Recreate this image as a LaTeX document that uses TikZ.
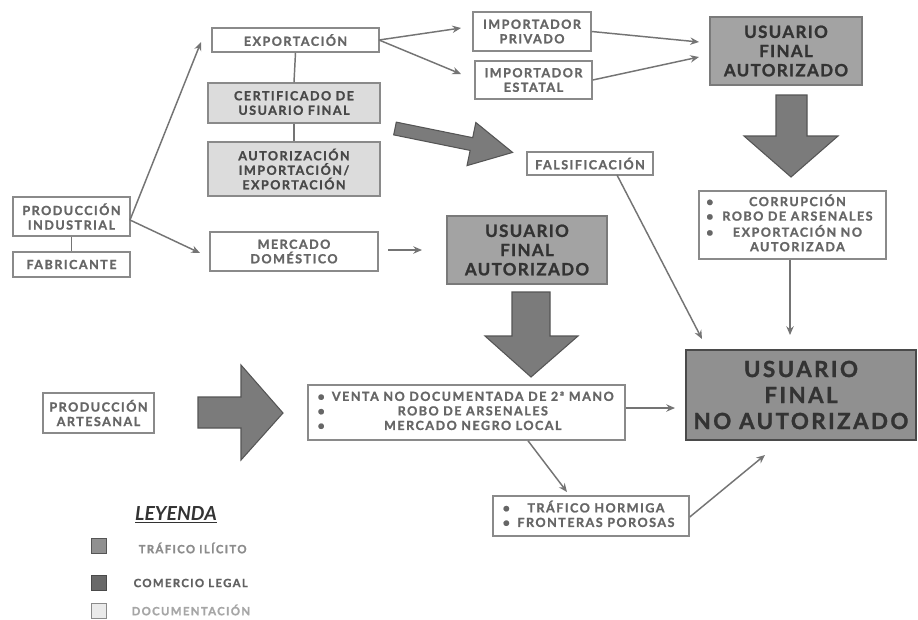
\documentclass[tikz,border=0pt]{standalone}
\usepackage{fontspec}
\setmainfont{Lato}
\newfontfamily\gs[LetterSpace=12,BoldFeatures={FakeBold=1.3}]{Lato}
\newfontfamily\gsb[LetterSpace=8,BoldFeatures={FakeBold=1.3}]{Lato}
\newfontfamily\gsn[LetterSpace=11,BoldFeatures={FakeBold=1.3}]{Lato}
\usetikzlibrary{arrows.meta,calc}
\definecolor{bordc}{HTML}{8A8A8A}
\definecolor{txtc}{HTML}{666666}
\definecolor{doctxt}{HTML}{484848}
\definecolor{docc}{HTML}{DCDCDC}
\definecolor{ufac}{HTML}{A3A3A3}
\definecolor{ufab}{HTML}{7A7A7A}
\definecolor{noac}{HTML}{909090}
\definecolor{noab}{HTML}{4A4A4A}
\definecolor{bigtxt}{HTML}{333333}
\definecolor{arrc}{HTML}{7B7B7B}
\definecolor{arrb}{HTML}{555555}
\definecolor{linec}{HTML}{747474}
\newcommand{\bl}{\textbullet}
\begin{document}
\begin{tikzpicture}[x=0.75pt,y=-0.75pt,
  sz/.style n args={2}{minimum width=#1pt,minimum height=#2pt},
  box/.style={draw=bordc,line width=1.1pt,inner sep=0pt,align=center,rectangle},
  wbox/.style={box,fill=white,text=txtc,font=\gs\bfseries\fontsize{9.4}{10.9}\selectfont},
  dbox/.style={box,fill=docc,text=doctxt,font=\gs\bfseries\fontsize{9.4}{10.9}\selectfont},
  ubox/.style={box,fill=ufac,draw=ufab,text=bigtxt,font=\gsb\bfseries\fontsize{12.7}{14.4}\selectfont},
  nbox/.style={box,fill=noac,draw=noab,line width=1.5pt,text=bigtxt,font=\gsn\bfseries\fontsize{16.7}{19.5}\selectfont},
  conn/.style={draw=linec,line width=1.1pt,-{Stealth[length=6.5pt,width=5.5pt]}},
  plain/.style={draw=linec,line width=1.1pt},
  bigarrow/.style={fill=arrc,draw=arrb,line width=0.8pt},
  legsq/.style={draw,line width=0.9pt,minimum size=11pt,inner sep=0pt},
  legtxt/.style={font=\gs\bfseries\fontsize{8.5}{9}\selectfont,anchor=west}]
\clip (0,0) rectangle (918,619);
\fill[white] (0,0) rectangle (918,619);

% boxes
\node[wbox,sz={125.25}{18}] (exp) at (295.5,40) {EXPORTACIÓN};
\node[dbox,sz={129}{30}] (cert) at (294,103) {CERTIFICADO DE\\USUARIO FINAL};
\node[dbox,sz={129}{40.5}] (aut) at (294,169) {AUTORIZACIÓN\\IMPORTACIÓN/\\EXPORTACIÓN};
\node[wbox,sz={87.75}{29.25}] (pi) at (71.5,216.5) {PRODUCCIÓN\\INDUSTRIAL};
\node[wbox,sz={87.75}{18.75}] (fab) at (71.5,264.5) {FABRICANTE};
\node[wbox,sz={126}{29.25}] (merc) at (294,251.5) {MERCADO\\DOMÉSTICO};
\node[ubox,sz={120}{51}] (ufa2) at (527,250) {USUARIO\\FINAL\\AUTORIZADO};
\node[wbox,sz={88.5}{29.25}] (ipriv) at (532,31.5) {IMPORTADOR\\PRIVADO};
\node[wbox,sz={87.75}{28.5}] (iest) at (533.5,80) {IMPORTADOR\\ESTATAL};
\node[ubox,sz={114}{51}] (ufa1) at (786,51) {USUARIO\\FINAL\\AUTORIZADO};
\node[wbox,sz={94.5}{17.25}] (fals) at (590,163.5) {FALSIFICACIÓN};
\node[wbox,sz={140.25}{51}] (corr) at (792.5,225) {\begin{tabular}{@{}l@{\hspace{2pt}}l@{}}
 \bl & \makebox[122pt][c]{CORRUPCIÓN}\\
 \bl & \makebox[122pt][c]{ROBO DE ARSENALES}\\
 \bl & \makebox[122pt][c]{EXPORTACIÓN NO}\\
     & \makebox[122pt][c]{AUTORIZADA}
 \end{tabular}};
\node[nbox,sz={172.5}{67.5}] (noa) at (801,395) {USUARIO\\FINAL\\NO AUTORIZADO};
\node[wbox,sz={83.25}{30}] (art) at (98.5,413) {PRODUCCIÓN\\ARTESANAL};
\node[wbox,sz={237.75}{41.25}] (venta) at (466.5,412.5) {\begin{tabular}{@{}l@{\hspace{4pt}}l@{}}
 \bl & \makebox[214pt][c]{VENTA NO DOCUMENTADA DE 2ª MANO}\\
 \bl & \makebox[214pt][c]{ROBO DE ARSENALES}\\
 \bl & \makebox[214pt][c]{MERCADO NEGRO LOCAL}
 \end{tabular}};
\node[wbox,sz={147}{30}] (horm) at (591,516) {\begin{tabular}{@{}l@{\hspace{2pt}}l@{}}
 \bl & \makebox[125pt][c]{TRÁFICO HORMIGA}\\
 \bl & \makebox[125pt][c]{FRONTERAS POROSAS}
 \end{tabular}};

% plain links
\draw[plain] (exp.south) -- (cert.north);
\draw[plain] (cert.south) -- (aut.north);
\draw[plain] (pi.south) -- (fab.north);

% connectors
\coordinate (piout) at (130,220);
\coordinate (t1) at (201,42);
\coordinate (t2) at (200,253);
\draw[conn] (piout) -- (t1);
\draw[conn] (piout) -- (t2);
\coordinate (expout) at (379,40);
\coordinate (t3) at (461,28);
\coordinate (t4) at (461,74);
\draw[conn] (expout) -- (t3);
\draw[conn] (expout) -- (t4);
\coordinate (t5) at (699,42);
\coordinate (t6) at (699,57);
\draw[conn] (ipriv.east) -- (t5);
\draw[conn] (iest.east) -- (t6);
\coordinate (m1) at (388,250);
\coordinate (m2) at (422,250);
\draw[conn] (m1) -- (m2);
\coordinate (t7) at (702,339);
\draw[conn] (617,175) -- (t7);
\coordinate (t8) at (790,335);
\draw[conn] (corr.south -| t8) -- (t8);
\coordinate (t9) at (675,408);
\draw[conn] (venta.east |- t9) -- (t9);
\coordinate (t10) at (567,492);
\draw[conn] (venta.south -| 528,0) -- (t10);
\coordinate (t11) at (765,455);
\draw[conn] (horm.east |- 0,517) -- (t11);

% big arrows
\draw[bigarrow] (776,95) -- (807,95) -- (807,136) -- (838,136) -- (791,177) -- (744,136) -- (776,136) -- cycle;
\draw[bigarrow] (512,292) -- (550,292) -- (550,336) -- (578,336) -- (531,377) -- (485,336) -- (512,336) -- cycle;
\draw[bigarrow] (198,397) -- (241,397) -- (241,365) -- (283,413) -- (241,460) -- (241,428) -- (198,428) -- cycle;
\begin{scope}[shift={(395,128.5)},rotate=-11.5]
\draw[bigarrow] (0,-6.5) -- (78,-6.5) -- (78,-22) -- (120,0) -- (78,22) -- (78,6.5) -- (0,6.5) -- cycle;
\end{scope}

% legend
\node[font=\bfseries\itshape\fontsize{14.5}{16}\selectfont,text=bigtxt] (ley) at (176,515) {\underline{LEYENDA}};
\node[legsq,fill=noac,draw=arrb] (sq1) at (99,546) {};
\node[legsq,fill=arrc!85!black,draw=noab] (sq2) at (99,583) {};
\node[legsq,fill=docc!60!white,draw=bordc] (sq3) at (99,611) {};
\node[legtxt,text=black!45] (l1) at (134,548) {TRÁFICO ILÍCITO};
\node[legtxt,text=black!62] (l2) at (129,583) {COMERCIO LEGAL};
\node[legtxt,text=black!35] (l3) at (127,610) {DOCUMENTACIÓN};
\end{tikzpicture}
\end{document}
